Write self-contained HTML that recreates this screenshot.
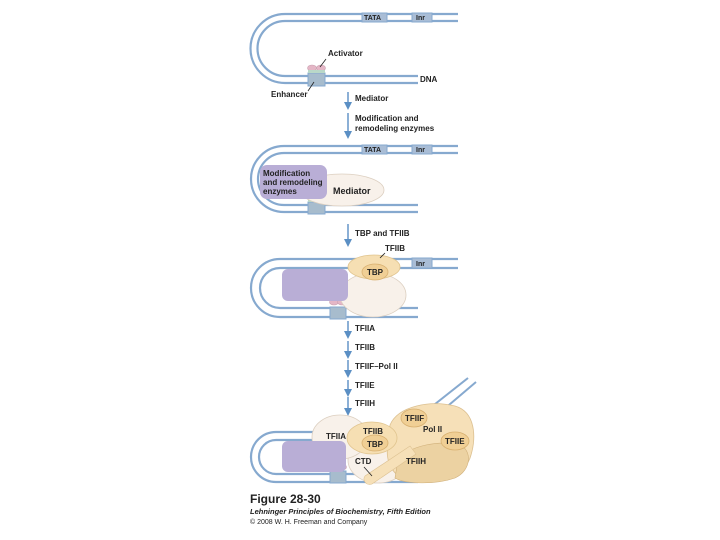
<!DOCTYPE html>
<html><head><meta charset="utf-8"><style>
html,body{margin:0;padding:0;background:#fff;}
svg{display:block;}
text{font-family:"Liberation Sans",sans-serif;font-weight:bold;font-size:8px;fill:#222;}
</style></head><body>
<svg width="720" height="540" viewBox="0 0 720 540">
<defs>
<marker id="ah" markerWidth="8" markerHeight="8" refX="4" refY="4" orient="auto" markerUnits="userSpaceOnUse">
<path d="M0,0 L8,4 L0,8 z" fill="#5b8fc4"/></marker>
</defs>
<g fill="none" stroke="#86a9cf" stroke-width="2.2">
<path d="M458,14 H285 A34,34 0 0 0 285,83 H418"/>
<path d="M458,21 H285 A27.5,27.5 0 0 0 285,76 H418"/>
<path d="M458,146 H284 A33,33 0 0 0 284,212 H418"/>
<path d="M458,153 H284 A26,26 0 0 0 284,205 H418"/>
<path d="M458,259 H280 A29,29 0 0 0 280,317 H418"/>
<path d="M458,268 H280 A20,20 0 0 0 280,308 H418"/>
<path d="M400,432 H276 A25,25 0 0 0 276,482 H418"/>
<path d="M400,440 H276 A17,17 0 0 0 276,474 H418"/>
</g>
<g fill="#a9bdd6" stroke="#86a9cf" stroke-width="1">
<rect x="362" y="13" width="25" height="9"/><rect x="412" y="13" width="20" height="9"/>
<rect x="362" y="145" width="25" height="9"/><rect x="412" y="145" width="20" height="9"/>
<rect x="412" y="258" width="20" height="10"/>
</g>
<text x="364" y="20" style="font-size:7px">TATA</text><text x="416" y="20" style="font-size:7px">Inr</text>
<text x="364" y="152" style="font-size:7px">TATA</text><text x="416" y="152" style="font-size:7px">Inr</text>
<text x="416" y="266" style="font-size:7px">Inr</text>
<g fill="#a7bccd" stroke="#86a9cf" stroke-width="1">
<rect x="308" y="73" width="17" height="13"/>
<rect x="308" y="202" width="17" height="12"/>
<rect x="330" y="307" width="16" height="12"/>
<rect x="330" y="471" width="16" height="12"/>
</g>
<g fill="#e4b6c6" stroke="#c9a0b0" stroke-width="0.6">
<ellipse cx="312" cy="68" rx="4.5" ry="3"/><ellipse cx="321" cy="68" rx="4.5" ry="3"/>
<ellipse cx="312" cy="198" rx="4.5" ry="3"/><ellipse cx="321" cy="198" rx="4.5" ry="3"/>
<ellipse cx="334" cy="302" rx="4.5" ry="3"/><ellipse cx="342" cy="302" rx="4.5" ry="3"/>
<ellipse cx="334" cy="467" rx="4.5" ry="3"/><ellipse cx="342" cy="467" rx="4.5" ry="3"/>
</g>
<g fill="#b9d8c8"><rect x="308" y="70" width="17" height="3"/><rect x="308" y="200" width="17" height="2"/></g>
<text x="328" y="56">Activator</text>
<line x1="326" y1="59" x2="320" y2="67" stroke="#222" stroke-width="0.8"/>
<text x="271" y="97">Enhancer</text>
<line x1="308" y1="91" x2="314" y2="82" stroke="#222" stroke-width="0.8"/>
<text x="420" y="82">DNA</text>
<g stroke="#5b8fc4" stroke-width="1.4" marker-end="url(#ah)">
<line x1="348" y1="92" x2="348" y2="106"/>
<line x1="348" y1="113" x2="348" y2="135"/>
<line x1="348" y1="224" x2="348" y2="243"/>
<line x1="348" y1="321" x2="348" y2="335"/>
<line x1="348" y1="341" x2="348" y2="355"/>
<line x1="348" y1="360" x2="348" y2="374"/>
<line x1="348" y1="380" x2="348" y2="393"/>
<line x1="348" y1="397" x2="348" y2="412"/>
</g>
<text x="355" y="101">Mediator</text>
<text x="355" y="121">Modification and</text>
<text x="355" y="131">remodeling enzymes</text>
<text x="355" y="236">TBP and TFIIB</text>
<text x="355" y="331">TFIIA</text>
<text x="355" y="350">TFIIB</text>
<text x="355" y="369">TFIIF–Pol II</text>
<text x="355" y="388">TFIIE</text>
<text x="355" y="406">TFIIH</text>
<ellipse cx="342" cy="190" rx="42" ry="16" fill="#f8f1ea" stroke="#dccfc0" stroke-width="0.8"/>
<rect x="260" y="165" width="67" height="34" rx="7" fill="#b9aed6"/>
<text x="263" y="176">Modification</text><text x="263" y="185">and remodeling</text><text x="263" y="194">enzymes</text>
<text x="333" y="194" style="font-size:9px">Mediator</text>
<ellipse cx="373" cy="295" rx="33" ry="22" fill="#f8f1ea" stroke="#dccfc0" stroke-width="0.8"/>
<rect x="282" y="269" width="66" height="32" rx="6" fill="#b9aed6"/>
<ellipse cx="374" cy="267" rx="26" ry="12" fill="#f6dfb3" stroke="#e0c48e" stroke-width="0.8"/>
<ellipse cx="375" cy="272" rx="13" ry="8" fill="#f0cf95" stroke="#d8b070" stroke-width="0.8"/>
<text x="367" y="275">TBP</text>
<text x="385" y="251">TFIIB</text>
<line x1="385" y1="253" x2="380" y2="258" stroke="#222" stroke-width="0.8"/>
<line x1="425" y1="412" x2="468" y2="378" stroke="#86a9cf" stroke-width="2"/>
<line x1="436" y1="416" x2="476" y2="382" stroke="#86a9cf" stroke-width="2"/>
<ellipse cx="378" cy="460" rx="30" ry="23" fill="#f8f1ea" stroke="#dccfc0" stroke-width="0.8"/>
<ellipse cx="340" cy="437" rx="28" ry="22" fill="#f8f1ea" stroke="#dccfc0" stroke-width="0.8"/>
<rect x="282" y="441" width="64" height="31" rx="6" fill="#b9aed6"/>
<path d="M390,425 C398,406 430,400 455,406 C476,412 476,438 471,455 C466,475 440,482 410,480 C392,478 385,460 388,445 Z" fill="#f6e0b8" stroke="#dcc090" stroke-width="0.8"/>
<path d="M398,460 C410,445 440,440 460,445 C472,450 472,470 455,478 C435,485 405,484 395,478 Z" fill="#ecd2a2" stroke="#d0b07a" stroke-width="0.6"/>
<path d="M365,476 L410,446 L416,454 L372,484 C366,486 362,480 365,476 Z" fill="#f6e0b8" stroke="#dcc090" stroke-width="0.6"/>
<ellipse cx="372" cy="438" rx="25" ry="16" fill="#f6dfb3" stroke="#e0c48e" stroke-width="0.8"/>
<ellipse cx="375" cy="443" rx="13" ry="8" fill="#f0cf95" stroke="#d8b070" stroke-width="0.8"/>
<ellipse cx="414" cy="418" rx="13" ry="9" fill="#f0cf95" stroke="#d8b070" stroke-width="0.8"/>
<ellipse cx="455" cy="441" rx="14" ry="9" fill="#f0cf95" stroke="#d8b070" stroke-width="0.8"/>
<text x="326" y="439">TFIIA</text>
<text x="363" y="434">TFIIB</text>
<text x="367" y="447">TBP</text>
<text x="405" y="421">TFIIF</text>
<text x="423" y="432">Pol II</text>
<text x="445" y="444">TFIIE</text>
<text x="406" y="464">TFIIH</text>
<text x="355" y="464">CTD</text>
<line x1="364" y1="467" x2="372" y2="476" stroke="#222" stroke-width="0.8"/>
<text x="250" y="503" style="font-size:12px">Figure 28-30</text>
<text x="250" y="514" style="font-size:7.5px;font-style:italic">Lehninger Principles of Biochemistry, Fifth Edition</text>
<text x="250" y="524" style="font-size:7px;font-weight:normal">© 2008 W. H. Freeman and Company</text>
</svg>
</body></html>
